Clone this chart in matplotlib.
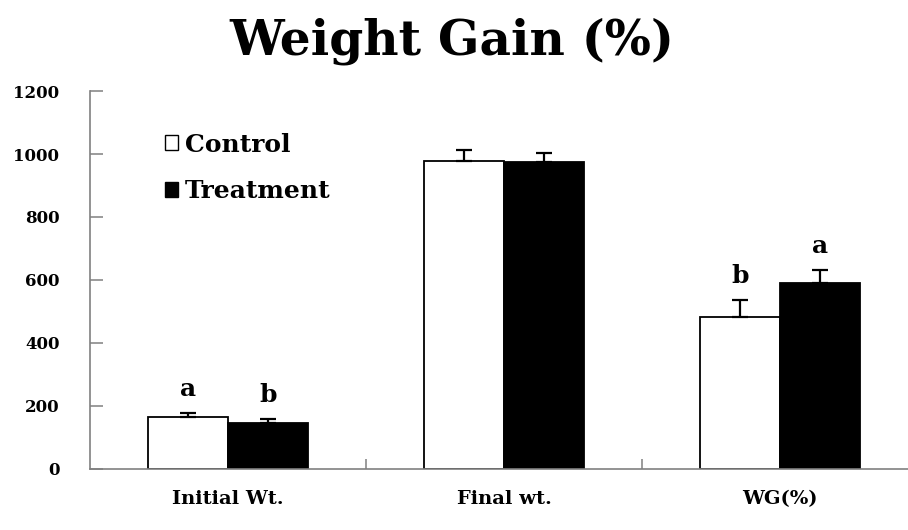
import matplotlib
matplotlib.use("Agg")
import matplotlib.pyplot as plt
from matplotlib.patches import Patch
import numpy as np

# Data
categories = ["Initial Wt.", "Final wt.", "WG(%)"]
control_mean = [166, 978, 484]
control_err = [12, 36, 52]
treatment_mean = [145, 975, 590]
treatment_err = [15, 27, 42]
control_letters = ["a", "", "b"]
treatment_letters = ["b", "", "a"]
y_ticks = [0, 200, 400, 600, 800, 1000, 1200]

FONT = "DejaVu Serif"
AXIS_GRAY = "#808080"

fig = plt.figure(figsize=(9.08, 5.30), dpi=100)
ax = fig.add_axes([0.0991, 0.1151, 0.912, 0.7132])

x = np.arange(len(categories))
w = 0.29

err_style = dict(ecolor="black", elinewidth=1.6, capsize=5.5, capthick=1.6)
ax.bar(x - w / 2, control_mean, w, color="white", edgecolor="black", linewidth=1.3,
       yerr=[np.zeros(len(x)), control_err], error_kw=err_style, zorder=2)
ax.bar(x + w / 2, treatment_mean, w, color="black", edgecolor="black", linewidth=1.3,
       yerr=[np.zeros(len(x)), treatment_err], error_kw=err_style, zorder=2)

# Significance letters above the error bars
for xi, m, e, lab in zip(x - w / 2, control_mean, control_err, control_letters):
    if lab:
        ax.annotate(lab, (xi, m + e), xytext=(0, 12), textcoords="offset points",
                    ha="center", va="baseline", fontsize=18, fontweight="bold", family=FONT)
for xi, m, e, lab in zip(x + w / 2, treatment_mean, treatment_err, treatment_letters):
    if lab:
        ax.annotate(lab, (xi, m + e), xytext=(0, 12), textcoords="offset points",
                    ha="center", va="baseline", fontsize=18, fontweight="bold", family=FONT)

ax.set_xlim(-0.5, 2.5)
ax.set_ylim(0, 1200)

ax.set_yticks(y_ticks)
ax.set_yticklabels([str(t) for t in y_ticks], fontsize=12, fontweight="bold", family=FONT)
ax.tick_params(axis="y", direction="in", length=9, width=1.1, color=AXIS_GRAY, pad=22)

# Group separators as major ticks, category names on minor ticks
ax.set_xticks([0.5, 1.5])
ax.set_xticklabels([])
ax.set_xticks(x, minor=True)
ax.set_xticklabels(categories, minor=True, fontsize=14, fontweight="bold", family=FONT)
ax.tick_params(axis="x", which="major", direction="in", length=7, width=1.1, color=AXIS_GRAY)
ax.tick_params(axis="x", which="minor", length=0, pad=15)

for side in ("top", "right"):
    ax.spines[side].set_visible(False)
for side in ("left", "bottom"):
    ax.spines[side].set_color(AXIS_GRAY)
    ax.spines[side].set_linewidth(1.2)

handles = [Patch(facecolor="white", edgecolor="black", linewidth=1.0, label="Control"),
           Patch(facecolor="black", edgecolor="black", linewidth=1.0, label="Treatment")]
ax.legend(handles=handles, loc="upper left", bbox_to_anchor=(0.09, 0.89),
          frameon=False, borderpad=0, borderaxespad=0, handlelength=0.55, handleheight=0.55,
          handletextpad=0.25, labelspacing=0.9,
          prop={"family": FONT, "weight": "bold", "size": 18})

fig.text(0.4978, 0.922, "Weight Gain (%)", ha="center", va="center",
         fontsize=35, fontweight="bold", family=FONT)

fig.savefig("out.png", dpi=100)
